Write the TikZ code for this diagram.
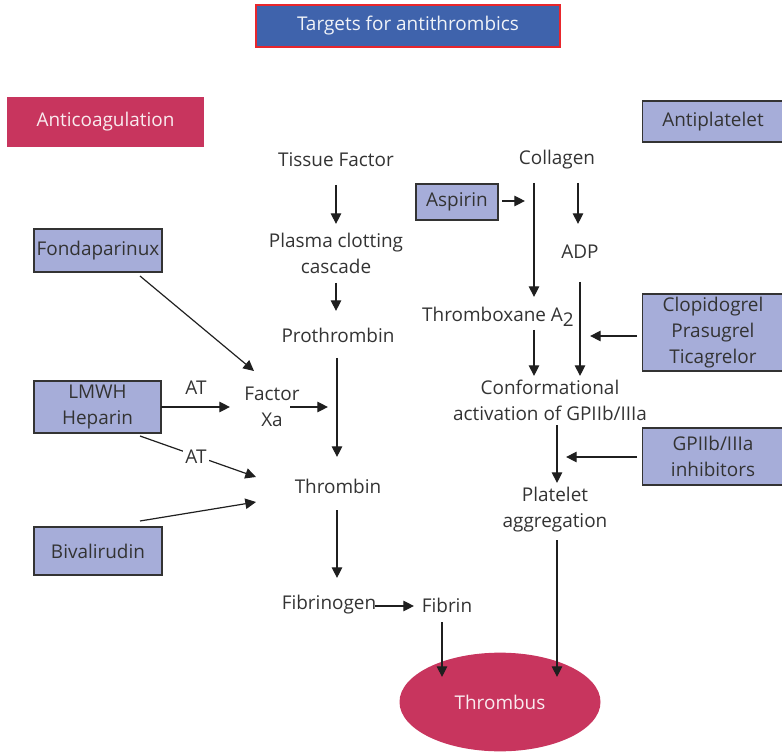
\documentclass[tikz,border=0pt]{standalone}
\usepackage{fontspec}
\setmainfont{Open Sans}
\usetikzlibrary{arrows.meta,shapes.geometric}
\definecolor{tblue}{HTML}{3F63AC}
\definecolor{tred}{HTML}{C8355E}
\definecolor{lav}{HTML}{A6ADD9}
\definecolor{txt}{HTML}{333333}
\definecolor{redline}{HTML}{E8262C}
\begin{document}
\begin{tikzpicture}[x=0.75pt,y=-0.75pt,
  every node/.style={font=\fontsize{14.2}{19.5}\selectfont, text=txt},
  lbl/.style={align=center, inner sep=0pt},
  box/.style={draw=txt, fill=lav, line width=0.9pt, inner sep=0pt, align=center},
  arr/.style={-{Triangle[length=8pt,width=7.8pt]}, line width=0.9pt, draw=black!88}]
\useasboundingbox (0,0) rectangle (782,752);
% header boxes
\node[draw=redline, fill=tblue, line width=1pt, minimum width=228pt, minimum height=31.5pt, inner sep=0pt, text=white!92!tblue] (title) at (408,26) {Targets for antithrombics};
\node[fill=tred, minimum width=147.75pt, minimum height=37.5pt, inner sep=0pt, text=white!90!tred] (anticoag) at (105.5,122) {Anticoagulation};
\node[box, minimum width=106pt, minimum height=30.75pt] (antipl) at (713,121.5) {Antiplatelet};
% drug boxes
\node[box, minimum width=61.5pt, minimum height=27pt] (asp) at (457,202) {Aspirin};
\node[box, minimum width=96pt, minimum height=32.25pt] (fonda) at (98,250.5) {Fondaparinux};
\node[box, minimum width=95.25pt, minimum height=39pt] (lmwh) at (97.5,407) {LMWH\\Heparin};
\node[box, minimum width=96pt, minimum height=36pt] (biva) at (98,551) {Bivalirudin};
\node[box, minimum width=106pt, minimum height=57.75pt] (clop) at (713,332.5) {Clopidogrel\\Prasugrel\\Ticagrelor};
\node[box, minimum width=106pt, minimum height=42.75pt] (gp) at (713,456.5) {GPIIb/IIIa\\inhibitors};
% thrombus
\node[ellipse, fill=tred, minimum width=150.75pt, minimum height=74pt, inner sep=0pt, text=white!90!tred] (thr) at (500,702) {Thrombus};
% coagulation labels
\node[lbl] (tf) at (336,160) {Tissue Factor};
\node[lbl] (plasma) at (336,253) {Plasma clotting\\cascade};
\node[lbl] (proth) at (338,335) {Prothrombin};
\node[lbl] (fxa) at (272,407) {Factor\\Xa};
\node[lbl] (thrombin) at (338,486) {Thrombin};
\node[lbl] (fibrinogen) at (329,605) {Fibrinogen};
\node[lbl] (fibrin) at (447,605) {Fibrin};
% platelet labels
\node[lbl] (coll) at (557,160) {Collagen};
\node[lbl] (adp) at (580,252) {ADP};
\node[lbl] (thx) at (498,317) {Thromboxane A\raisebox{-3.5pt}{2}};
\node[lbl] (conf) at (550,400) {Conformational\\activation of GPIIb/IIIa};
\node[lbl] (agg) at (555,510) {Platelet\\aggregation};
% coagulation arrows
\draw[arr] ([shift={(0,25)}]tf.center) -- ([shift={(0,-29)}]plasma.center);
\draw[arr] ([shift={(0,30)}]plasma.center) -- ([shift={(-2,-24)}]proth.center);
\draw[arr] ([shift={(-1,23)}]proth.center) -- ([shift={(-1,-29)}]thrombin.center);
\draw[arr] ([shift={(-1,24)}]thrombin.center) -- ([shift={(8,-27)}]fibrinogen.center);
\draw[arr] ([shift={(46,1)}]fibrinogen.center) -- ([shift={(-33,1)}]fibrin.center);
\draw[arr] ([shift={(-5,17)}]fibrin.center) -- ([shift={(-58,-25)}]thr.center);
\draw[arr] ([shift={(2,30)}]agg.center) -- ([shift={(57,-25)}]thr.center);
% platelet arrows
\draw[arr] ([shift={(-23,23)}]coll.center) -- ([shift={(36,-20)}]thx.center);
\draw[arr] ([shift={(21,23)}]coll.center) -- ([shift={(-2,-28)}]adp.center);
\draw[arr] ([shift={(0,30)}]adp.center) -- ([shift={(30,-24)}]conf.center);
\draw[arr] ([shift={(36,13)}]thx.center) -- ([shift={(-16,-24)}]conf.center);
\draw[arr] ([shift={(7,25)}]conf.center) -- ([shift={(2,-27)}]agg.center);
\draw[arr] ([shift={(45,-1)}]asp.center) -- ++(23,0);
\draw[arr] ([shift={(-76,3.5)}]clop.center) -- ++(-47,0);
\draw[arr] ([shift={(-76,0.5)}]gp.center) -- ++(-71,0);
% anticoagulant arrows
\draw[arr] ([shift={(42,25.5)}]fonda.center) -- ([shift={(-18,-36)}]fxa.center);
\draw[arr] ([shift={(63.5,0)}]lmwh.center) -- ([shift={(-42,0)}]fxa.center);
\draw[arr] ([shift={(18,0)}]fxa.center) -- ++(38,0);
\draw[arr] ([shift={(42.5,29)}]lmwh.center) -- ([shift={(-82,-9)}]thrombin.center);
\draw[arr] ([shift={(42,-30)}]biva.center) -- ([shift={(-82,16)}]thrombin.center);
\node[lbl] (at1) at (196,388) {AT};
\node[lbl, fill=white, inner sep=2pt] (at2) at (196,457) {AT};
\end{tikzpicture}
\end{document}
